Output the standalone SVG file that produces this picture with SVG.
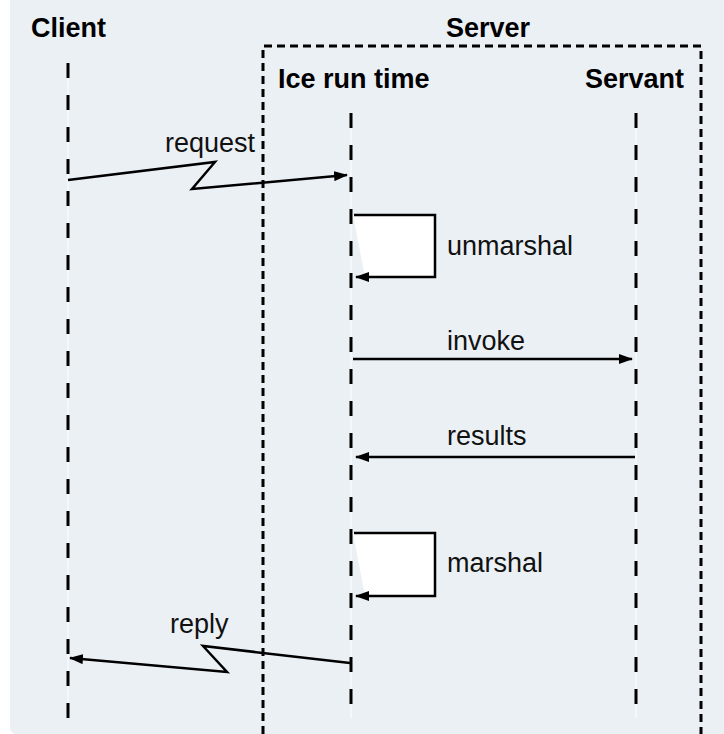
<svg xmlns="http://www.w3.org/2000/svg" width="724" height="734" viewBox="0 0 724 734">
<defs>
<style>
.title{font-family:"Liberation Sans",Arial,sans-serif;font-weight:bold;font-size:27px;fill:#000}
.lbl{font-family:"Liberation Sans",Arial,sans-serif;font-size:27px;fill:#111}
.life-w{stroke:#fff;stroke-width:1;fill:none}
.life-d{stroke:#000;stroke-width:3;stroke-dasharray:15 17;fill:none}
.box{stroke:#000;stroke-width:3;stroke-dasharray:8 5;fill:none}
.msg{stroke:#000;stroke-width:2.5;fill:none}
</style>
<marker id="ah" markerWidth="14" markerHeight="10" refX="13" refY="5" orient="auto" markerUnits="userSpaceOnUse">
<path d="M0,0 L14,5 L0,10 Z" fill="#000"/>
</marker>
</defs>
<rect x="0" y="0" width="724" height="734" fill="#fff"/>
<path d="M10,0 H724 V734 H16 Q10,734 10,727 Z" fill="#ebf0f5"/>

<g id="server-box">
<path class="box" d="M263,734 V46 H701 V734"/>
<text class="title" x="488" y="37" text-anchor="middle">Server</text>
</g>

<g id="client">
<text class="title" x="31" y="37">Client</text>
<line class="life-w" x1="68" y1="63" x2="68" y2="718"/>
<line class="life-d" x1="68" y1="63" x2="68" y2="718"/>
</g>

<g id="ice-run-time">
<text class="title" x="278" y="88">Ice run time</text>
<line class="life-w" x1="351" y1="113" x2="351" y2="718"/>
<line class="life-d" x1="351" y1="113" x2="351" y2="718"/>
</g>

<g id="servant">
<text class="title" x="684" y="88" text-anchor="end">Servant</text>
<line class="life-w" x1="636" y1="113" x2="636" y2="718"/>
<line class="life-d" x1="636" y1="113" x2="636" y2="718"/>
</g>

<g id="connectors">
<g id="request">
<polyline class="msg" points="68,180 215,162 192,189 347,175" marker-end="url(#ah)"/>
<text class="lbl" x="165" y="152">request</text>
</g>
<g id="unmarshal">
<polygon points="353,215 435,215 435,277 365,277" fill="#fff"/>
<polyline class="msg" points="354,215 435,215 435,277 356,277" marker-end="url(#ah)"/>
<text class="lbl" x="447" y="255">unmarshal</text>
</g>
<g id="invoke">
<line class="msg" x1="353" y1="359" x2="632" y2="359" marker-end="url(#ah)"/>
<text class="lbl" x="447" y="350">invoke</text>
</g>
<g id="results">
<line class="msg" x1="635" y1="457" x2="356" y2="457" marker-end="url(#ah)"/>
<text class="lbl" x="447" y="445">results</text>
</g>
<g id="marshal">
<polygon points="353,533 435,533 435,596 365,596" fill="#fff"/>
<polyline class="msg" points="354,533 435,533 435,596 356,596" marker-end="url(#ah)"/>
<text class="lbl" x="447" y="572">marshal</text>
</g>
<g id="reply">
<polyline class="msg" points="350,663 203,646 227,672 70,658" marker-end="url(#ah)"/>
<text class="lbl" x="170" y="633">reply</text>
</g>
</g>
</svg>
